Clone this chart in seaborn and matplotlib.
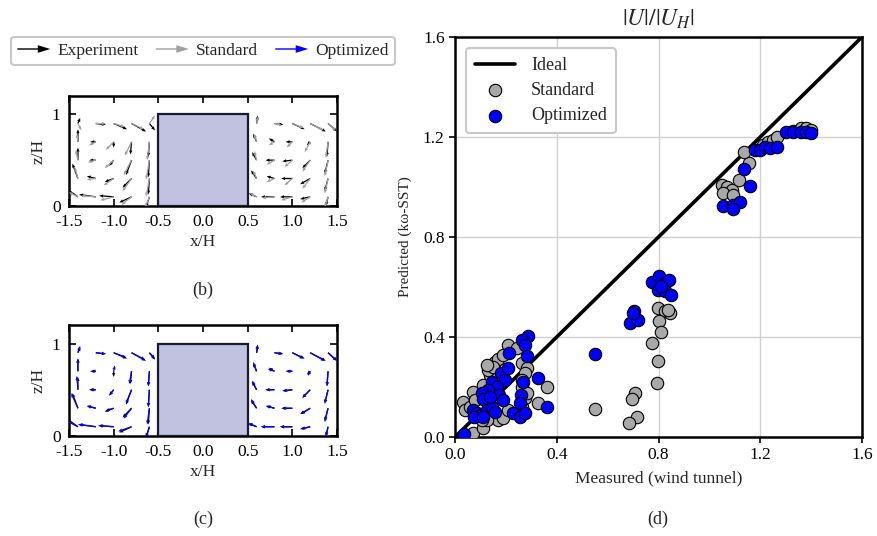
import numpy as np
import pandas as pd
import matplotlib
matplotlib.use("Agg")
import matplotlib.pyplot as plt
import matplotlib.patches as mpatches
from matplotlib.legend_handler import HandlerPatch
import seaborn as sns

# ---------------- data ----------------
grid_x_left = [-1.4, -1.2, -1.0, -0.8, -0.6]
grid_x_right = [0.6, 0.8, 1.0, 1.2, 1.4]
grid_y = [0.1, 0.3, 0.5, 0.7, 0.9]

# rows: y = 0.1 ... 0.9 ; columns follow grid_x lists
exp_left_u = [[-0.10, -0.15, -0.13, -0.11, -0.03],
              [-0.05, -0.08, -0.08, -0.08, -0.01],
              [0.00, -0.06, -0.04, -0.05, -0.01],
              [0.00, -0.05, 0.00, -0.01, -0.01],
              [0.02, 0.09, 0.12, 0.13, 0.05]]
exp_left_v = [[0.07, 0.02, 0.01, -0.05, -0.09],
              [0.13, 0.02, -0.03, -0.08, -0.14],
              [0.11, 0.00, -0.05, -0.13, -0.15],
              [0.11, 0.00, -0.05, -0.11, -0.13],
              [0.05, -0.01, -0.05, -0.07, -0.06]]
std_left_u = [[-0.08, -0.13, -0.12, -0.09, -0.04],
              [-0.03, -0.08, -0.09, -0.08, -0.03],
              [-0.02, -0.07, -0.08, -0.07, -0.03],
              [-0.01, -0.06, -0.07, -0.06, -0.02],
              [0.03, 0.09, 0.10, 0.11, 0.05]]
std_left_v = [[0.04, 0.01, -0.03, -0.07, -0.10],
              [0.10, -0.01, -0.06, -0.11, -0.16],
              [0.09, -0.02, -0.07, -0.13, -0.17],
              [0.07, -0.03, -0.07, -0.12, -0.16],
              [-0.06, 0.00, -0.03, -0.05, 0.07]]
opt_left_u = [[-0.12, -0.16, -0.14, -0.12, -0.03],
              [-0.06, -0.08, -0.07, -0.07, -0.02],
              [-0.01, -0.05, -0.04, -0.05, -0.01],
              [0.00, -0.04, 0.01, -0.02, -0.01],
              [0.02, 0.09, 0.11, 0.12, 0.05]]
opt_left_v = [[0.06, 0.02, 0.01, -0.04, -0.10],
              [0.13, 0.02, -0.02, -0.09, -0.14],
              [0.12, 0.00, -0.05, -0.12, -0.15],
              [0.11, 0.00, 0.05, -0.11, -0.13],
              [0.06, -0.01, -0.04, -0.06, -0.05]]
exp_right_u = [[-0.07, -0.12, -0.11, -0.09, -0.02],
               [-0.05, -0.07, -0.10, -0.09, -0.03],
               [-0.04, -0.08, -0.09, -0.07, -0.03],
               [-0.03, -0.05, -0.06, -0.03, -0.01],
               [0.01, 0.08, 0.11, 0.14, 0.08]]
exp_right_v = [[0.03, 0.00, 0.00, -0.02, -0.08],
               [0.07, 0.02, 0.00, -0.05, -0.11],
               [0.07, 0.00, -0.01, -0.07, -0.12],
               [0.07, 0.03, 0.00, -0.03, -0.13],
               [0.07, -0.01, -0.05, -0.07, -0.07]]
std_right_u = [[-0.06, -0.11, -0.10, -0.08, -0.03],
               [-0.03, -0.07, -0.07, -0.07, -0.03],
               [-0.02, -0.07, -0.07, -0.07, -0.03],
               [-0.02, -0.05, -0.05, -0.05, -0.02],
               [0.01, 0.06, 0.10, 0.12, 0.07]]
std_right_v = [[0.03, -0.01, -0.03, -0.05, -0.09],
               [0.07, -0.03, -0.06, -0.09, -0.13],
               [0.08, -0.04, -0.06, -0.10, -0.14],
               [0.07, -0.03, -0.05, -0.09, -0.14],
               [0.06, -0.01, -0.04, -0.06, -0.06]]
opt_right_u = [[-0.08, -0.12, -0.11, -0.08, -0.02],
               [-0.05, -0.08, -0.09, -0.08, -0.03],
               [-0.04, -0.08, -0.08, -0.07, -0.03],
               [-0.03, -0.06, -0.05, -0.02, -0.01],
               [0.01, 0.07, 0.10, 0.13, 0.08]]
opt_right_v = [[0.03, 0.00, 0.00, -0.02, -0.09],
               [0.08, 0.02, 0.00, -0.05, -0.12],
               [0.08, 0.00, -0.01, -0.07, -0.12],
               [0.08, 0.02, 0.00, -0.04, -0.13],
               [0.07, -0.01, -0.05, -0.07, -0.07]]

# scatter panel (d)
std_meas = [0.033, 0.072, 0.111, 0.138, 0.131, 0.157, 0.170, 0.210, 0.262, 0.282,
            0.275, 0.262, 0.275, 0.328, 0.360, 0.072, 0.111, 0.170, 0.190, 0.124,
            0.105, 0.210, 0.262, 0.039, 0.059, 0.079, 0.151, 0.124, 0.190, 0.243,
            0.262, 0.282, 0.550, 0.797, 0.825, 0.845, 0.838, 0.803, 0.810, 0.773,
            0.799, 0.793, 0.708, 0.697, 0.717, 0.685, 1.048, 1.068, 1.088, 1.055,
            1.093, 1.116, 1.156, 1.136, 1.210, 1.230, 1.250, 1.265, 1.330, 1.360,
            1.380, 1.400]
std_pred = [0.141, 0.181, 0.208, 0.248, 0.268, 0.301, 0.311, 0.368, 0.295, 0.275,
            0.255, 0.201, 0.155, 0.135, 0.201, 0.015, 0.035, 0.068, 0.075, 0.068,
            0.068, 0.108, 0.121, 0.108, 0.121, 0.148, 0.281, 0.288, 0.328, 0.355,
            0.228, 0.175, 0.111, 0.515, 0.504, 0.495, 0.508, 0.464, 0.421, 0.375,
            0.304, 0.217, 0.175, 0.151, 0.081, 0.055, 1.008, 0.999, 0.988, 0.975,
            0.968, 1.030, 1.097, 1.140, 1.170, 1.180, 1.190, 1.200, 1.225, 1.235,
            1.235, 1.230]
opt_meas = [0.037, 0.286, 0.262, 0.275, 0.212, 0.282, 0.328, 0.360, 0.180, 0.197,
            0.144, 0.164, 0.128, 0.105, 0.174, 0.111, 0.072, 0.085, 0.102, 0.124,
            0.144, 0.157, 0.210, 0.269, 0.259, 0.255, 0.229, 0.255, 0.275, 0.075,
            0.111, 0.138, 0.190, 0.550, 0.705, 0.688, 0.718, 0.698, 0.773, 0.803,
            0.829, 0.842, 0.797, 0.825, 0.848, 0.809, 1.052, 1.093, 1.120, 1.093,
            1.158, 1.136, 1.180, 1.200, 1.220, 1.240, 1.265, 1.300, 1.330, 1.360,
            1.380, 1.400]
opt_pred = [0.012, 0.405, 0.388, 0.368, 0.337, 0.324, 0.237, 0.119, 0.255, 0.228,
            0.221, 0.199, 0.188, 0.175, 0.168, 0.151, 0.108, 0.095, 0.088, 0.108,
            0.121, 0.101, 0.275, 0.221, 0.168, 0.135, 0.095, 0.081, 0.095, 0.081,
            0.081, 0.161, 0.148, 0.332, 0.504, 0.457, 0.468, 0.495, 0.621, 0.644,
            0.619, 0.628, 0.588, 0.584, 0.568, 0.605, 0.924, 0.928, 0.941, 0.911,
            1.004, 1.072, 1.150, 1.150, 1.160, 1.155, 1.160, 1.220, 1.220, 1.220,
            1.220, 1.215]
ideal_x = [0.0, 1.6]
ideal_y = [0.0, 1.6]

quiver_x_ticks = [-1.5, -1.0, -0.5, 0.0, 0.5, 1.0, 1.5]
quiver_y_ticks = [0, 1]
scatter_ticks = [0.0, 0.4, 0.8, 1.2, 1.6]

# ---------------- style ----------------
sns.set_theme(style="ticks")
serif = ["Liberation Serif", "DejaVu Serif"]
plt.rcParams["font.family"] = serif
plt.rcParams["mathtext.fontset"] = "stix"
plt.rcParams["axes.unicode_minus"] = False

C_EXP = "black"
C_STD = "#a0a0a0"
C_OPT = "#0000ff"
C_BLD = "#c0c2e0"

fig = plt.figure(figsize=(8.78, 5.36), dpi=100)

ax_b = fig.add_axes([69 / 878, 1 - 206 / 536, 268 / 878, 110 / 536])
ax_c = fig.add_axes([69 / 878, 1 - 436 / 536, 268 / 878, 111 / 536])
ax_d = fig.add_axes([455 / 878, 1 - 437 / 536, 407 / 878, 400 / 536])

XL, YY = np.meshgrid(grid_x_left, grid_y)
XR, _ = np.meshgrid(grid_x_right, grid_y)

qkw = dict(angles="xy", scale_units="xy", scale=0.8, width=0.0048,
           headwidth=2.6, headlength=3.2, headaxislength=2.9, pivot="tail")


def quiver_panel(ax, model_l, model_r, model_color):
    ax.quiver(XL, YY, np.array(exp_left_u), np.array(exp_left_v), color=C_EXP, zorder=2, **qkw)
    ax.quiver(XR, YY, np.array(exp_right_u), np.array(exp_right_v), color=C_EXP, zorder=2, **qkw)
    ax.quiver(XL, YY, np.array(model_l[0]), np.array(model_l[1]), color=model_color, zorder=3, **qkw)
    ax.quiver(XR, YY, np.array(model_r[0]), np.array(model_r[1]), color=model_color, zorder=3, **qkw)
    ax.add_patch(mpatches.Rectangle((-0.5, 0.0), 1.0, 1.0, facecolor=C_BLD,
                                    edgecolor="#1a1a2e", lw=1.6, zorder=4))
    ax.set_xlim(-1.5, 1.5)
    ax.set_ylim(0, 1.2)
    ax.set_xticks(quiver_x_ticks)
    ax.set_xticklabels([f"{t:.1f}" for t in quiver_x_ticks])
    ax.set_yticks(quiver_y_ticks)
    ax.set_yticklabels([str(t) for t in quiver_y_ticks])
    ax.tick_params(direction="in", top=True, right=True, length=5, width=1.2,
                   labelsize=12.5, color="black", labelcolor="black")
    ax.tick_params(axis="x", pad=6)
    ax.tick_params(axis="y", pad=6)
    for s in ax.spines.values():
        s.set_linewidth(1.8)
        s.set_color("black")
    ax.set_xlabel("x/H", fontsize=12.5, labelpad=3)
    ax.set_ylabel("z/H", fontsize=12.5, labelpad=4)


quiver_panel(ax_b, (std_left_u, std_left_v), (std_right_u, std_right_v), C_STD)
quiver_panel(ax_c, (opt_left_u, opt_left_v), (opt_right_u, opt_right_v), C_OPT)

fig.text(203 / 878, 1 - 290 / 536, "(b)", ha="center", va="center", fontsize=13)
fig.text(203 / 878, 1 - 519 / 536, "(c)", ha="center", va="center", fontsize=13)
fig.text(658 / 878, 1 - 519 / 536, "(d)", ha="center", va="center", fontsize=13)


# arrow legend on top
class HandlerArrow(HandlerPatch):
    def create_artists(self, legend, orig_handle, xdescent, ydescent, width,
                       height, fontsize, trans):
        p = mpatches.FancyArrow(-xdescent, -ydescent + height / 2, width, 0,
                                length_includes_head=True, width=1.0,
                                head_width=5.5, head_length=9,
                                color=orig_handle.get_facecolor(), lw=0)
        p.set_transform(trans)
        return [p]


arrow_handles = [mpatches.FancyArrow(0, 0, 1, 0, color=C_EXP, label="Experiment"),
                 mpatches.FancyArrow(0, 0, 1, 0, color=C_STD, label="Standard"),
                 mpatches.FancyArrow(0, 0, 1, 0, color=C_OPT, label="Optimized")]
leg_top = fig.legend(handles=arrow_handles, loc="center",
                     bbox_to_anchor=(203 / 878, 1 - 51 / 536), ncol=3,
                     handler_map={mpatches.FancyArrow: HandlerArrow()},
                     fontsize=12.5, frameon=True, fancybox=True, handlelength=1.9,
                     handletextpad=0.4, columnspacing=1.0, borderpad=0.35,
                     edgecolor="#c8c8c8", framealpha=1)
leg_top.get_frame().set_linewidth(1.5)

# scatter panel
sns.lineplot(x=ideal_x, y=ideal_y, ax=ax_d, color="black", lw=2.6, label="Ideal", zorder=2)
sns.scatterplot(x=std_meas, y=std_pred, ax=ax_d, color="#a8a8a8", edgecolor="black",
                linewidth=0.8, s=80, label="Standard", zorder=3)
sns.scatterplot(x=opt_meas, y=opt_pred, ax=ax_d, color=C_OPT, edgecolor="black",
                linewidth=0.8, s=80, label="Optimized", zorder=4)
ax_d.set_xlim(0, 1.6)
ax_d.set_ylim(0, 1.6)
ax_d.set_xticks(scatter_ticks)
ax_d.set_yticks(scatter_ticks)
ax_d.set_xticklabels([f"{t:.1f}" for t in scatter_ticks])
ax_d.set_yticklabels([f"{t:.1f}" for t in scatter_ticks])
ax_d.grid(True, color="#d0d0d0", lw=1.0)
ax_d.set_axisbelow(True)
ax_d.tick_params(direction="out", length=4, width=1.2, labelsize=12.5,
                 color="black", labelcolor="black")
for s in ax_d.spines.values():
    s.set_linewidth(1.8)
    s.set_color("black")
ax_d.set_xlabel("Measured (wind tunnel)", fontsize=12.5, labelpad=5)
ax_d.set_ylabel("Predicted (kω-SST)", fontsize=11, labelpad=8)
ax_d.set_title(r"$|U|/|U_H|$", fontsize=17, pad=8)
leg_d = ax_d.legend(loc="upper left", fontsize=13, frameon=True, fancybox=True,
                    edgecolor="#c8c8c8", framealpha=1, handlelength=2.2,
                    borderpad=0.5, labelspacing=0.45, handletextpad=0.9,
                    bbox_to_anchor=(0.005, 0.995))
leg_d.get_frame().set_linewidth(1.5)

fig.savefig("out.png", dpi=100)
